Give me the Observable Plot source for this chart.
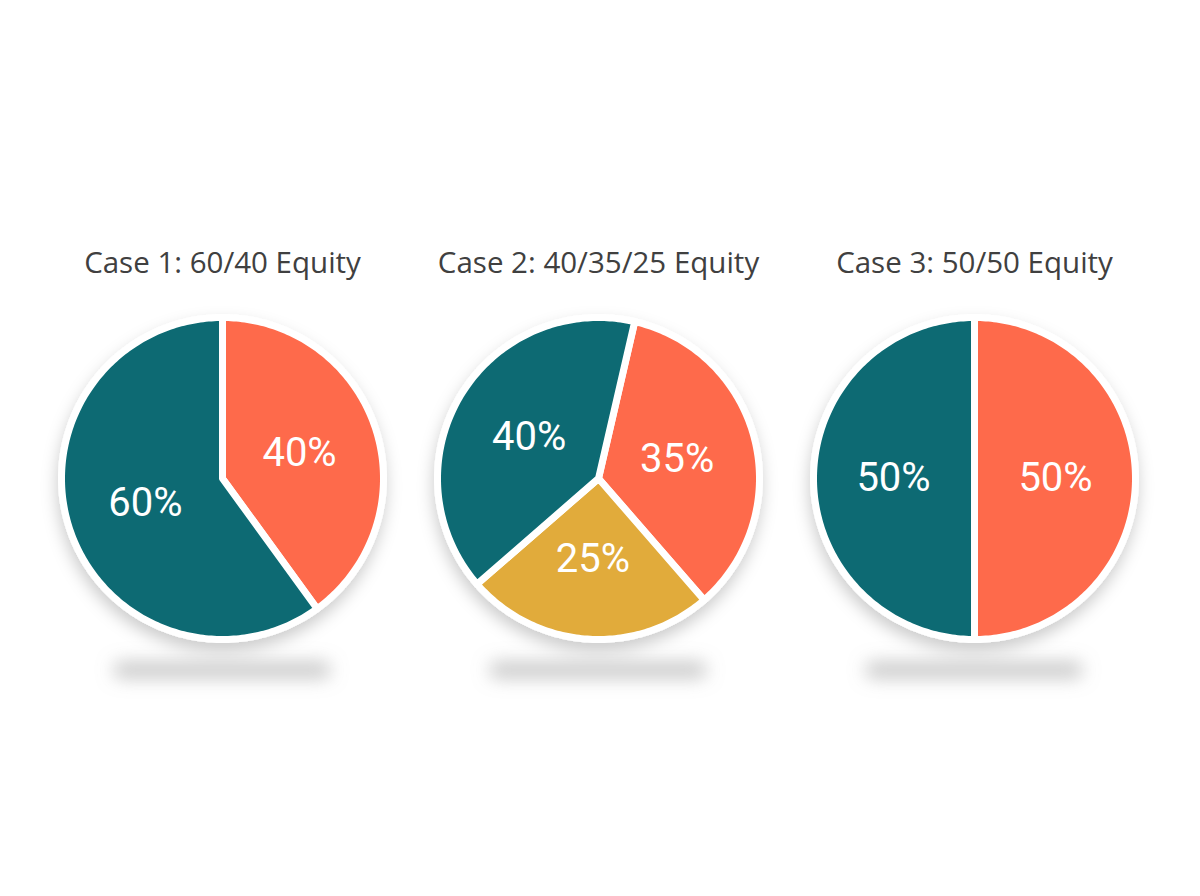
<!DOCTYPE html>
<html>
<head>
<meta charset="utf-8">
<script src="https://cdn.jsdelivr.net/npm/d3@7"></script>
<script src="https://cdn.jsdelivr.net/npm/@observablehq/plot@0.6"></script>
<style>
  html, body { margin: 0; padding: 0; background: #ffffff; }
  #chart { width: 1200px; height: 896px; }
</style>
</head>
<body>
<div id="chart"></div>
<script>
// ---------- data ----------
const caseTitles = ["Case 1: 60/40 Equity", "Case 2: 40/35/25 Equity", "Case 3: 50/50 Equity"];
const categories = ["Equity A", "Equity B", "Equity C"];
const palette = ["#0a6b73", "#fe6a4c", "#e1ab3b"];

// slices listed clockwise from each pie's start angle
const case1Slices = ["Equity B", "Equity A"];
const case1Shares = [40, 60];
const case2Slices = ["Equity B", "Equity C", "Equity A"];
const case2Shares = [35, 25, 40];
const case3Slices = ["Equity B", "Equity A"];
const case3Shares = [50, 50];

// ---------- layout ----------
const startAngles = [0, 13, 0];         // degrees clockwise from 12 o'clock
const unit = 376;                        // px between pie centres
const R = 161 / unit;                    // slice radius
const labelR = 81 / unit;                // label distance from centre
const titleY = 215 / unit;               // title offset above centre
const shadowY = 192 / unit;              // ground shadow offset below centre

const cases = [
  {slices: case1Slices, shares: case1Shares},
  {slices: case2Slices, shares: case2Shares},
  {slices: case3Slices, shares: case3Shares}
];

const polys = [];
const labels = [];
cases.forEach((c, i) => {
  const total = d3.sum(c.shares);
  let a = startAngles[i];
  c.shares.forEach((v, j) => {
    const span = v / total * 360;
    const a0 = a, a1 = a + span;
    const id = `${i}-${j}`;
    polys.push({id, cat: c.slices[j], x: i, y: 0});
    const n = Math.max(2, Math.ceil(span));
    for (let k = 0; k <= n; k++) {
      const t = (a0 + (a1 - a0) * k / n) * Math.PI / 180;
      polys.push({id, cat: c.slices[j], x: i + R * Math.sin(t), y: R * Math.cos(t)});
    }
    const m = (a0 + a1) / 2 * Math.PI / 180;
    labels.push({x: i + labelR * Math.sin(m), y: labelR * Math.cos(m), text: `${v}%`});
    a = a1;
  });
});

const titles = caseTitles.map((t, i) => ({x: i, y: titleY, text: t}));
const grounds = caseTitles.map((t, i) => ({x1: i - 0.29, x2: i + 0.29, y1: -shadowY - 0.022, y2: -shadowY + 0.022}));

const plot = Plot.plot({
  width: 1200,
  height: 896,
  margin: 0,
  x: {domain: [-222 / unit, (1200 - 222) / unit], axis: null},
  y: {domain: [-(896 - 478) / unit, 478 / unit], axis: null},
  color: {domain: categories, range: palette},
  style: {background: "#ffffff"},
  marks: [
    Plot.rect(grounds, {x1: "x1", x2: "x2", y1: "y1", y2: "y2", fill: "#9a9a9a", fillOpacity: 0.55, rx: 9}),
    Plot.line(polys, {x: "x", y: "y", z: "id", fill: "cat", stroke: "#ffffff", strokeWidth: 7, strokeLinejoin: "round", curve: "linear-closed"}),
    Plot.text(labels, {x: "x", y: "y", text: "text", fill: "#ffffff", fontSize: 40, fontFamily: "Roboto", fontWeight: 400}),
    Plot.text(titles, {x: "x", y: "y", text: "text", fill: "#404040", fontSize: 29.5, fontFamily: "Open Sans"})
  ]
});

// soft shadows (SVG filters)
const svg = d3.select(plot);
const defs = svg.insert("defs", ":first-child");
defs.append("filter").attr("id", "pieShadow")
  .attr("x", "-30%").attr("y", "-30%").attr("width", "160%").attr("height", "160%")
  .append("feDropShadow").attr("dx", -1).attr("dy", 8).attr("stdDeviation", 8)
  .attr("flood-color", "#000").attr("flood-opacity", 0.2);
defs.append("filter").attr("id", "groundBlur")
  .attr("x", "-50%").attr("y", "-400%").attr("width", "200%").attr("height", "900%")
  .append("feGaussianBlur").attr("stdDeviation", 9);
svg.selectAll('g[aria-label="line"]').attr("filter", "url(#pieShadow)");
svg.selectAll('g[aria-label="rect"]').attr("filter", "url(#groundBlur)");

document.getElementById("chart").appendChild(plot);
</script>
</body>
</html>
